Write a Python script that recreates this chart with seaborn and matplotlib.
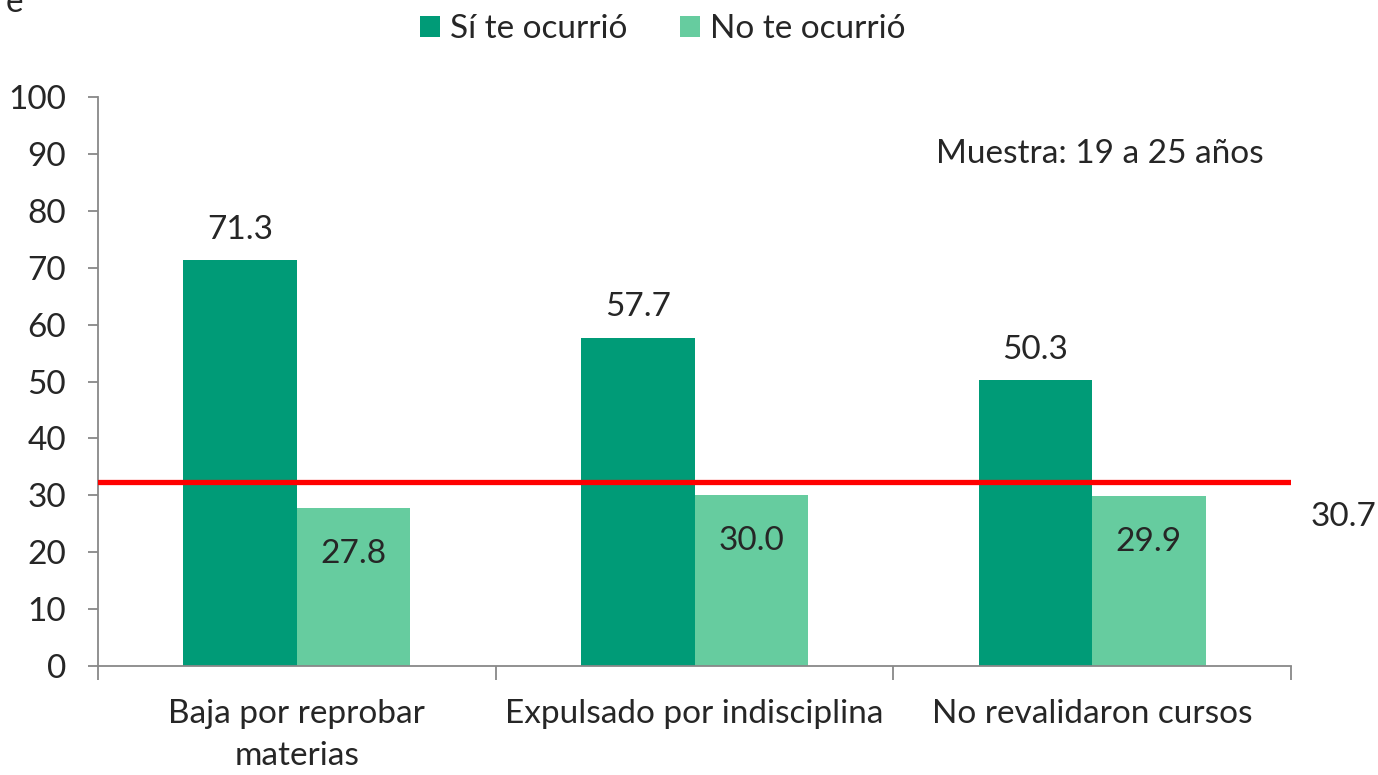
import numpy as np
import pandas as pd
import matplotlib
matplotlib.use("Agg")
import matplotlib.pyplot as plt
import matplotlib.patheffects as pe
from matplotlib.patches import Patch
import seaborn as sns

# Datos
categorias = ["Baja por reprobar\nmaterias", "Expulsado por indisciplina", "No revalidaron cursos"]
series = ["Sí te ocurrió", "No te ocurrió"]
si_ocurrio = [71.3, 57.7, 50.3]
no_ocurrio = [27.8, 30.0, 29.9]
ref_posicion = 32.4   # donde está dibujada la línea roja
ref_etiqueta = "30.7"
colores = ["#009B77", "#66CC9F"]

df = pd.DataFrame({
    "categoria": categorias * 2,
    "serie": [series[0]] * 3 + [series[1]] * 3,
    "valor": si_ocurrio + no_ocurrio,
})

sns.set_style("white")
plt.rcParams["font.family"] = ["Lato", "DejaVu Sans"]
FS = 24

fig = plt.figure(figsize=(13.78, 7.75), dpi=100)
ax = fig.add_axes([0.0711, 0.1406, 0.8658, 0.7342])

sns.barplot(data=df, x="categoria", y="valor", hue="serie", order=categorias,
            hue_order=series, palette=colores, saturation=1, width=0.57,
            errorbar=None, legend=False, linewidth=0, ax=ax)

ax.set_xlim(-0.5, 2.5)
ax.set_ylim(0, 100)
ax.set_yticks(np.arange(0, 101, 10))
ax.set_xlabel("")
ax.set_ylabel("")

# Etiquetas de valores
ax.bar_label(ax.containers[0], fmt="%.1f", padding=11, fontsize=FS)
ax.bar_label(ax.containers[1], fmt="%.1f", padding=-44, fontsize=FS)

# Línea de referencia
ax.axhline(ref_posicion, color="#FF0000", lw=3.8, zorder=5,
           path_effects=[pe.SimplePatchShadow(offset=(1.5, -2.5), alpha=0.3), pe.Normal()])
ax.text(1.016, 26.2, ref_etiqueta, transform=ax.get_yaxis_transform(),
        fontsize=FS, va="center", ha="left")

ax.text(2.02, 90.0, "Muestra: 19 a 25 años", fontsize=FS, ha="center", va="center")

# Ejes
for s in ["top", "right"]:
    ax.spines[s].set_visible(False)
for s in ["left", "bottom"]:
    ax.spines[s].set_color("#888888")
    ax.spines[s].set_linewidth(1.3)
ax.tick_params(axis="y", which="major", length=7, width=1.3, color="#888888",
               pad=16, labelsize=FS, left=True)
ax.tick_params(axis="x", which="major", length=0, pad=24, labelsize=FS)
ax.set_xticks([-0.5, 0.5, 1.5, 2.5], minor=True)
ax.tick_params(axis="x", which="minor", length=10, width=1.3, color="#888888", bottom=True)
for lbl in ax.get_xticklabels():
    lbl.set_linespacing(1.5)

# Leyenda
handles = [Patch(facecolor=c, edgecolor="none") for c in colores]
fig.legend(handles, series, loc="upper center", bbox_to_anchor=(0.481, 1.02), ncol=2,
           frameon=False, fontsize=FS, handlelength=0.6, handleheight=0.6,
           handletextpad=0.3, columnspacing=1.6)

fig.text(0.004, 1.015, "e", fontsize=FS, ha="left", va="top")

fig.savefig("out.png", dpi=100)
